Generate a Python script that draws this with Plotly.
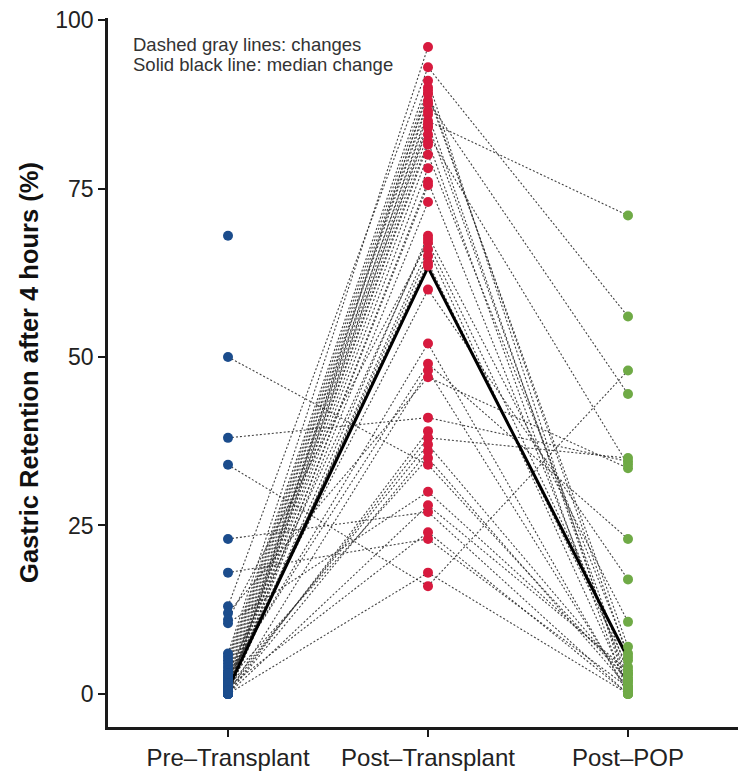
import plotly.graph_objects as go

# Stages on the x axis
stages = ["Pre\u2013Transplant", "Post\u2013Transplant", "Post\u2013POP"]
stage_pos = [1, 2, 3]

# Gastric retention after 4 hours (%) per patient; None = not measured
pre_transplant = [68, 50, 38, 34, 23, 18, 13, 12, 11, 10.5,
                  6, 5.5, 5, 4.5, 4, 3.5, 3, 2.5, 2, 1.5,
                  1, 1, 0.5, 0.5, 0, 0, 0, 0, 0, 0.5,
                  1, 1.5, 2, 2.5, 3, 0, 0, 0.5, 1, 0,
                  2, 0, 1, 0, 0, 1.5, 0.5, 3]
post_transplant = [None, 34, 41, 16, 27, 23, 93, 47, 67, 30,
                   96, 91, 90, 89, 88, 87.5, 86, 85, 84, 83,
                   82, 81.5, 80, 78, 76, 75.5, 73, 68, 66, 65,
                   64, 63.5, 60, 52, 49, 48, 39, 38, 37, 36,
                   35, 28, 24, 18, 89.5, 86.5, 84.5, 67.5]
post_pop = [None, 2, 34.5, 48, 0, 1, 56, 33.5, 5, 3,
            None, 0.5, None, 7, 44.5, None, 1.5, 71, None, 34,
            0, None, 6, None, 2.5, None, None, 10.7, 1, None,
            4, None, 17, 0, 23, 0.5, None, 35, 2, None,
            1, 3.5, 0, 0, 5.5, None, 3, None]

# Median retention at each stage
median_change = [0.8, 63.3, 5.3]

colors = ["#1B4C8C", "#D71A3E", "#6FAA46"]
font_family = "Liberation Sans, Arial, sans-serif"

fig = go.Figure()

# Per-patient change segments (dashed gray)
seg_x, seg_y = [], []
for vals in zip(pre_transplant, post_transplant, post_pop):
    for i in range(2):
        a, b = vals[i], vals[i + 1]
        if a is not None and b is not None:
            seg_x += [stage_pos[i], stage_pos[i + 1], None]
            seg_y += [a, b, None]

fig.add_trace(go.Scatter(
    x=seg_x, y=seg_y, mode="lines", connectgaps=False,
    line=dict(color="rgba(45,45,45,0.9)", width=1.1, dash="2px,2px"),
    hoverinfo="skip", showlegend=False,
))

# Median change (solid black)
fig.add_trace(go.Scatter(
    x=stage_pos, y=median_change, mode="lines",
    line=dict(color="black", width=3),
    hoverinfo="skip", showlegend=False,
))

# Points for each stage
for pos, vals, col in zip(stage_pos, [pre_transplant, post_transplant, post_pop], colors):
    ys = [v for v in vals if v is not None]
    fig.add_trace(go.Scatter(
        x=[pos] * len(ys), y=ys, mode="markers",
        marker=dict(color=col, size=10, line=dict(width=0)),
        showlegend=False,
    ))

fig.add_annotation(
    xref="paper", yref="paper", x=0.036, y=0.962,
    text="Dashed gray lines: changes", showarrow=False,
    xanchor="left", yanchor="middle",
    font=dict(family=font_family, size=18.5, color="#333333"),
)
fig.add_annotation(
    xref="paper", yref="paper", x=0.036, y=0.934,
    text="Solid black line: median change", showarrow=False,
    xanchor="left", yanchor="middle",
    font=dict(family=font_family, size=18.5, color="#333333"),
)

fig.update_layout(
    width=738, height=776,
    margin=dict(l=108, r=0, t=18, b=49),
    plot_bgcolor="white", paper_bgcolor="white",
    font=dict(family=font_family, color="#222222"),
    xaxis=dict(
        range=[0.4, 3.55], tickmode="array", tickvals=stage_pos, ticktext=stages,
        showgrid=False, zeroline=False, showline=True, linecolor="#1a1a1a", linewidth=2.5,
        ticks="outside", ticklen=7, tickwidth=2, tickcolor="#1a1a1a",
        tickfont=dict(size=24, color="#222222"),
    ),
    yaxis=dict(
        range=[-4.9, 100.3], tickvals=[0, 25, 50, 75, 100],
        showgrid=False, zeroline=False, showline=True, linecolor="#1a1a1a", linewidth=2.5,
        ticks="outside", ticklen=7, tickwidth=2, tickcolor="#1a1a1a",
        tickfont=dict(size=23, color="#222222"),
        title=dict(text="<b>Gastric Retention after 4 hours (%)</b>",
                   font=dict(size=25.5, color="#111111"), standoff=10),
    ),
)

fig.write_html("out.html")
